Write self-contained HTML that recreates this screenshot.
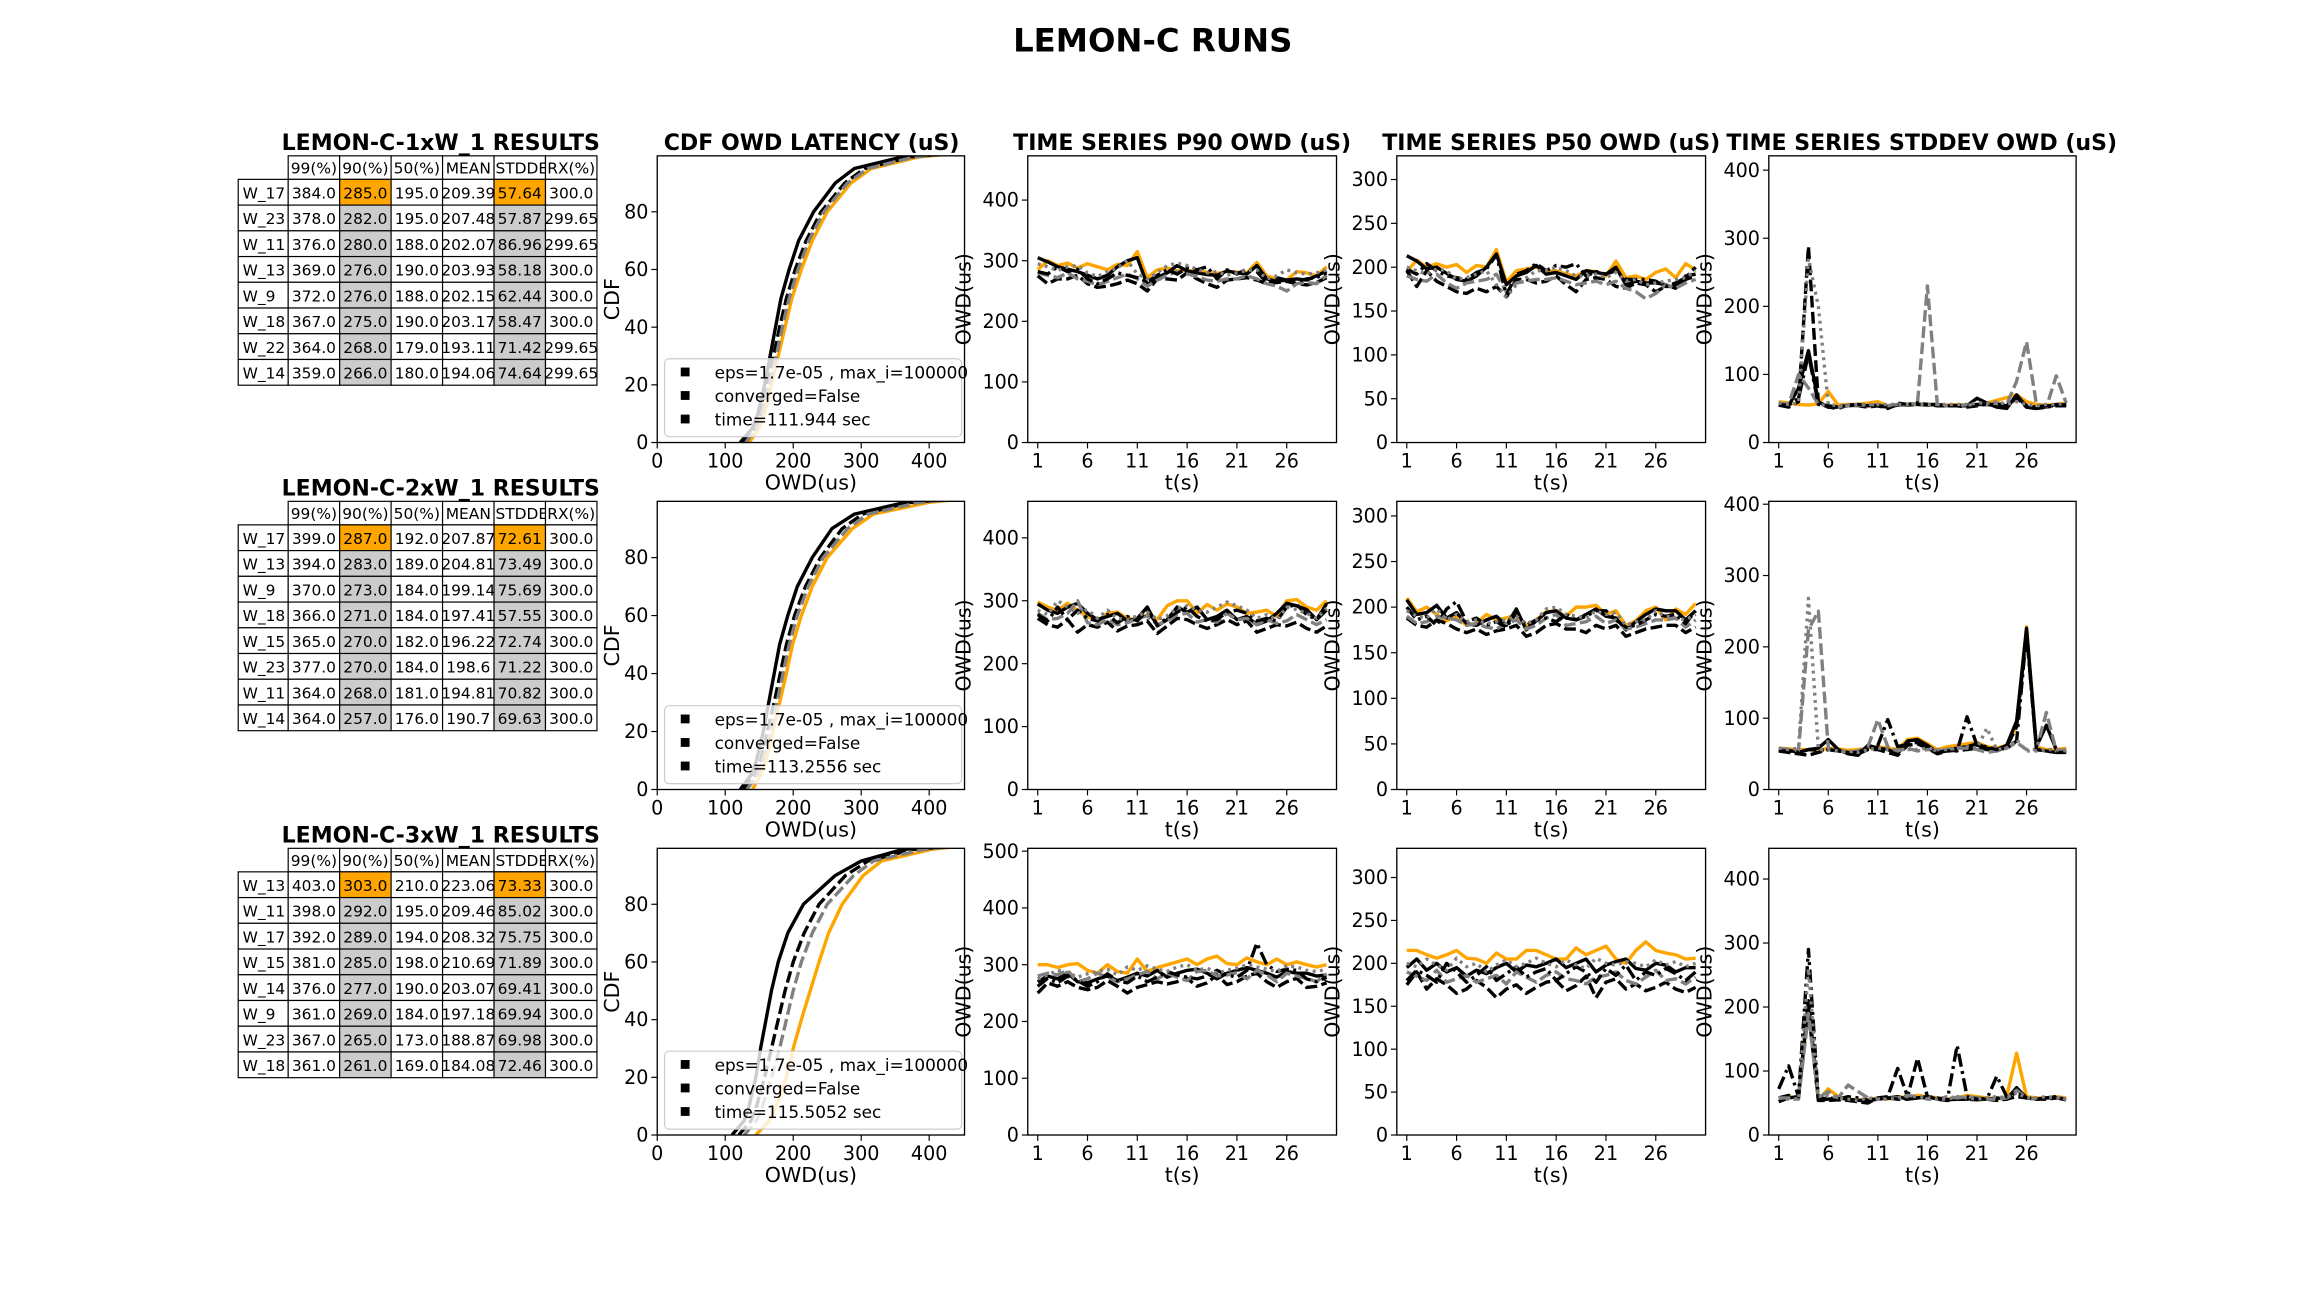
<!DOCTYPE html>
<html><head><meta charset="utf-8">
<style>
html,body{margin:0;padding:0;background:#fff;}
svg{display:block;font-family:"DejaVu Sans","Liberation Sans",sans-serif;}
</style></head>
<body>
<svg id="fig" width="2304" height="1296" viewBox="0 0 1567 881.5" preserveAspectRatio="none" xmlns="http://www.w3.org/2000/svg">
<text x="784" y="35" text-anchor="middle" font-size="22" font-weight="bold">LEMON-C RUNS</text>
</svg>
<script>
// ---------- DATA ----------
const tableCols = ["99(%)","90(%)","50(%)","MEAN","STDDEV","RX(%)"];
const tableTitles = ["LEMON-C-1xW_1 RESULTS","LEMON-C-2xW_1 RESULTS","LEMON-C-3xW_1 RESULTS"];
const tableRows1 = [["W_17","384.0","285.0","195.0","209.39","57.64","300.0"],["W_23","378.0","282.0","195.0","207.48","57.87","299.65"],["W_11","376.0","280.0","188.0","202.07","86.96","299.65"],["W_13","369.0","276.0","190.0","203.93","58.18","300.0"],["W_9","372.0","276.0","188.0","202.15","62.44","300.0"],["W_18","367.0","275.0","190.0","203.17","58.47","300.0"],["W_22","364.0","268.0","179.0","193.11","71.42","299.65"],["W_14","359.0","266.0","180.0","194.06","74.64","299.65"]];
const tableRows2 = [["W_17","399.0","287.0","192.0","207.87","72.61","300.0"],["W_13","394.0","283.0","189.0","204.81","73.49","300.0"],["W_9","370.0","273.0","184.0","199.14","75.69","300.0"],["W_18","366.0","271.0","184.0","197.41","57.55","300.0"],["W_15","365.0","270.0","182.0","196.22","72.74","300.0"],["W_23","377.0","270.0","184.0","198.6","71.22","300.0"],["W_11","364.0","268.0","181.0","194.81","70.82","300.0"],["W_14","364.0","257.0","176.0","190.7","69.63","300.0"]];
const tableRows3 = [["W_13","403.0","303.0","210.0","223.06","73.33","300.0"],["W_11","398.0","292.0","195.0","209.46","85.02","300.0"],["W_17","392.0","289.0","194.0","208.32","75.75","300.0"],["W_15","381.0","285.0","198.0","210.69","71.89","300.0"],["W_14","376.0","277.0","190.0","203.07","69.41","300.0"],["W_9","361.0","269.0","184.0","197.18","69.94","300.0"],["W_23","367.0","265.0","173.0","188.87","69.98","300.0"],["W_18","361.0","261.0","169.0","184.08","72.46","300.0"]];
const legendTimes = ["time=111.944 sec","time=113.2556 sec","time=115.5052 sec"];

const cdfLevels = [0,5,10,20,30,40,50,60,70,80,90,95,99,100];
const cdf1 = [[135,150,158,168,178,188,198,212,228,250,285,315,384,430],[122,140,148,158,166,174,182,194,208,230,262,290,360,410],[126,144,152,162,171,180,190,203,219,241,276,305,372,420],[130,146,154,165,175,184,194,207,223,245,280,310,378,425]];
const cdf2 = [[140,152,160,170,180,190,199,212,228,250,287,318,399,440],[122,138,146,156,164,172,180,192,206,228,257,290,364,415],[128,144,152,162,172,181,190,202,218,240,272,302,370,425],[132,147,155,166,176,185,194,206,222,244,280,310,385,432]];
const cdf3 = [[145,165,175,190,200,212,225,238,252,272,303,330,403,440],[110,128,135,145,152,160,168,178,192,215,262,300,361,420],[120,138,146,158,168,178,188,200,216,238,277,310,376,428],[128,146,155,168,180,190,200,212,228,250,289,318,392,435]];

const p90_1 = [[285,300,292,296,288,295,290,285,294,292,315,272,285,288,283,284,283,281,279,282,281,280,297,275,270,268,282,280,275,290],[305,298,290,286,282,276,270,276,290,300,305,260,272,280,292,283,280,277,276,283,280,278,292,270,266,268,270,268,275,283],[275,262,270,270,276,262,256,258,262,268,262,250,270,270,268,280,270,262,256,268,270,272,268,262,264,266,262,260,264,272],[280,276,272,280,270,266,260,266,272,278,270,258,268,276,282,278,274,268,266,270,270,275,270,262,258,250,262,264,262,276],[282,278,290,282,286,270,262,270,280,276,272,265,276,285,278,288,285,290,270,285,278,286,282,264,272,268,266,270,272,280],[295,290,284,290,292,280,274,282,288,300,278,270,280,292,296,292,286,280,282,276,280,284,285,270,275,285,280,278,280,285]];
const p50_1 = [[195,208,200,204,200,203,194,202,200,220,183,196,198,200,195,196,192,190,196,195,190,207,188,190,186,194,198,188,204,197],[213,207,198,200,193,186,184,190,200,215,180,190,194,202,192,194,190,186,196,194,192,200,180,184,182,182,180,176,190,192],[196,178,196,184,178,172,170,176,172,178,166,186,186,182,184,190,180,172,186,188,186,178,176,182,180,172,178,178,186,190],[190,186,184,192,182,176,182,184,186,192,172,182,184,186,186,188,184,180,182,184,180,184,176,172,164,170,180,176,182,186],[198,192,204,196,190,188,186,194,198,214,168,192,196,204,196,202,200,204,190,195,192,196,186,186,186,184,178,182,188,200],[200,196,192,198,196,186,188,192,196,180,166,180,188,196,196,200,196,190,190,192,188,194,184,186,180,182,184,186,188,196]];
const std_1 = [[60,58,56,55,57,75,55,56,56,58,60,54,56,56,57,56,55,55,56,55,56,58,62,66,70,60,56,55,56,58],[56,54,80,135,60,52,52,54,55,54,55,52,55,56,56,55,56,54,54,54,65,58,52,50,70,52,50,52,56,55],[55,52,60,288,58,52,50,55,54,52,54,50,56,55,56,56,54,54,54,52,54,56,54,52,66,52,50,52,54,54],[58,56,100,80,56,54,52,54,54,56,55,54,56,56,58,230,56,54,55,55,56,56,58,56,90,148,56,52,98,58],[55,55,65,130,56,54,52,55,56,54,54,52,58,56,58,56,56,54,54,54,56,56,56,54,68,54,52,54,54,56],[58,56,58,270,200,56,54,55,56,56,56,56,56,56,56,56,56,56,56,56,58,58,60,56,60,56,54,56,56,58]];
const p90_2 = [[298,290,285,296,285,275,268,280,282,272,270,278,270,292,300,300,280,294,285,295,290,280,282,285,275,300,302,290,285,300],[295,285,280,290,296,280,270,275,280,268,272,290,260,270,290,282,290,270,275,285,270,275,262,268,280,296,292,286,270,295],[272,262,258,270,250,262,258,266,252,260,262,268,248,260,272,270,262,256,262,270,262,268,250,256,262,260,266,256,250,260],[280,270,272,280,300,265,262,270,262,265,272,276,262,268,278,280,266,270,266,280,270,272,262,270,264,268,278,270,262,270],[278,268,290,270,285,272,268,278,265,275,268,285,262,272,282,290,275,268,270,282,285,280,268,272,268,290,294,278,270,285],[285,278,300,290,280,286,272,285,272,270,276,282,270,276,288,292,285,282,290,298,292,285,272,278,270,290,286,280,272,288]];
const p50_2 = [[210,195,200,192,185,190,180,182,192,186,188,192,180,186,195,196,190,200,200,202,192,196,180,185,196,200,186,198,192,204],[208,192,194,202,188,194,182,180,186,190,180,198,175,185,194,196,188,186,192,198,190,188,175,184,192,198,196,196,186,196],[188,180,178,186,182,176,172,176,170,174,176,180,168,172,180,182,176,176,172,180,176,180,168,172,176,178,180,180,172,178],[190,182,184,190,188,186,180,182,178,176,182,186,176,180,188,192,180,182,184,190,182,186,176,178,182,186,186,188,178,186],[200,186,190,180,198,206,184,188,180,184,178,194,180,186,188,184,192,186,190,196,196,186,178,180,186,192,190,192,182,196],[196,190,188,198,186,192,184,186,182,184,186,190,182,186,198,200,192,190,188,196,192,194,180,184,186,196,190,188,186,192]];
const std_2 = [[58,57,56,56,55,58,57,55,56,58,60,58,56,70,72,64,56,60,62,64,66,60,58,62,90,228,60,56,56,58],[56,55,52,56,58,70,56,50,48,62,58,56,50,68,70,62,52,56,58,60,64,58,56,62,96,226,60,90,56,52],[54,52,50,48,52,56,54,52,50,56,56,52,48,62,64,58,50,54,55,56,58,56,54,60,88,222,56,54,52,54],[58,56,55,224,250,58,54,52,54,60,98,60,54,58,54,56,55,56,58,58,56,52,54,58,66,56,56,108,54,56],[54,54,52,56,55,56,54,52,52,58,62,98,60,64,66,58,52,54,54,102,62,60,56,58,68,220,56,54,52,52],[58,56,58,268,56,56,54,54,52,56,58,56,56,56,56,58,56,56,58,60,58,86,56,58,70,54,54,56,56,54]];
const p90_3 = [[300,300,295,300,302,290,285,300,288,285,310,288,295,300,305,310,300,310,315,302,300,312,305,300,310,300,305,300,296,300],[270,280,275,285,270,268,275,280,272,278,285,280,290,278,285,290,292,285,275,285,290,295,290,285,278,288,285,285,280,282],[250,268,262,270,260,256,260,272,262,250,260,265,270,266,270,276,262,268,282,265,270,280,285,270,260,270,276,260,262,268],[280,285,282,290,270,275,285,278,270,275,282,288,275,285,278,272,288,290,280,282,286,275,290,282,270,285,280,276,270,284],[262,276,268,280,272,262,270,284,272,268,280,270,278,288,282,278,275,280,290,282,278,290,338,300,288,292,290,275,270,278],[275,282,290,286,278,284,288,292,282,296,290,298,292,288,296,300,290,294,285,290,294,300,296,292,288,298,296,290,288,292]];
const p50_3 = [[215,215,210,206,210,215,206,205,200,212,205,205,215,215,210,205,205,218,210,215,220,205,200,215,225,215,212,210,205,206],[195,205,192,200,190,195,185,192,188,195,200,190,198,196,200,205,195,200,205,190,198,202,205,194,192,200,198,190,195,195],[175,190,170,182,175,165,170,180,172,160,170,175,165,172,178,180,168,174,185,160,178,182,170,176,168,172,178,170,166,172],[190,185,180,192,178,182,186,178,182,186,176,190,184,178,186,190,182,180,176,184,186,190,180,176,184,192,180,182,176,184],[180,192,186,178,200,190,178,186,196,180,188,196,184,190,194,180,188,196,190,178,194,186,198,180,190,186,194,188,180,190],[200,196,205,198,192,206,196,200,190,198,204,196,200,206,200,196,204,198,194,206,200,198,202,200,196,204,198,202,196,200]];
const std_3 = [[56,60,58,200,55,72,60,56,55,55,58,56,60,58,62,60,58,56,58,62,60,58,56,60,128,60,58,58,60,58],[52,58,60,210,55,56,58,56,54,54,56,58,60,56,58,60,56,55,56,56,58,56,58,56,74,58,56,58,58,55],[58,62,58,195,54,54,55,54,52,50,58,60,104,60,120,60,56,54,56,56,55,56,54,56,60,58,56,56,58,56],[58,58,56,190,58,68,58,78,68,58,56,58,58,62,60,56,56,60,58,60,58,56,56,58,70,58,56,58,60,56],[72,108,60,290,56,58,56,60,58,54,56,58,56,56,58,60,58,54,140,60,56,56,92,60,66,58,56,58,60,54],[58,56,56,260,60,62,58,56,54,58,56,56,58,60,60,58,56,56,60,58,56,58,60,58,66,58,58,60,58,56]];
const tTicks = [1,6,11,16,21,26];
const cdfXTicks = [0,100,200,300,400];
const cdfYTicks = [0,20,40,60,80];

// ---------- DRAW ----------
const NS = "http://www.w3.org/2000/svg";
const svg = document.getElementById("fig");
function mk(tag, attrs, parent){const e=document.createElementNS(NS,tag);for(const k in attrs)e.setAttribute(k,attrs[k]);(parent||svg).appendChild(e);return e;}
function txt(s, attrs, parent){const e=mk("text",attrs,parent);e.textContent=s;return e;}

const styles = [
  {c:"#ffa500",d:""},{c:"#000",d:""},{c:"#000",d:"8,3"},{c:"#808080",d:"8,3"},{c:"#000",d:"9,3,2,3"},{c:"#808080",d:"2,3"}
];
const rowsY = [[106,301],[341,537],[577,772]];
const colsX = {cdf:[447,656],p90:[699,909],p50:[950,1160],std:[1203,1412]};
const tXlim = [0,31];

function axes(name, x0,x1,y0,y1, xlim, ylim, xticks, yticks, xlabel, ylabel, series, xs){
  const g = mk("g",{});
  
  
  const sx = v => x0 + (v-xlim[0])/(xlim[1]-xlim[0])*(x1-x0);
  const sy = v => y1 - (v-ylim[0])/(ylim[1]-ylim[0])*(y1-y0);
  const cid = "clip-"+name;
  const cp = mk("clipPath",{id:cid},g); mk("rect",{x:x0,y:y0,width:x1-x0,height:y1-y0},cp);
  const lg = mk("g",{"clip-path":"url(#"+cid+")"},g);
  series.forEach((s,i)=>{
    const st = styles[i%styles.length];
    const pts = s.map((v,j)=> xs==="cdf" ? sx(v)+","+sy(cdfLevels[j]) : sx(j+1)+","+sy(v)).join(" ");
    const pl = mk("polyline",{points:pts,fill:"none",stroke:st.c,"stroke-width":2.3,"stroke-dasharray":st.d,"stroke-linejoin":"round"},lg);
    
    
  });
  mk("rect",{x:x0,y:y0,width:x1-x0,height:y1-y0,fill:"none",stroke:"#000","stroke-width":0.9},g);
  xticks.forEach(t=>{const X=sx(t);mk("line",{x1:X,x2:X,y1:y1,y2:y1+4,stroke:"#000","stroke-width":0.8},g);
    const l=txt(String(t),{x:X,y:y1+17,"text-anchor":"middle","font-size":13},g);
    
    });
  yticks.forEach(t=>{const Y=sy(t);mk("line",{x1:x0-4,x2:x0,y1:Y,y2:Y,stroke:"#000","stroke-width":0.8},g);
    const l=txt(String(t),{x:x0-6,y:Y+4.5,"text-anchor":"end","font-size":13},g);
    
    });
  const xl=txt(xlabel,{x:(x0+x1)/2,y:y1+32,"text-anchor":"middle","font-size":14},g);
  
  
  const ylx = x0-(ylabel==="CDF"?26:39);
  const yl=txt(ylabel,{x:ylx,y:(y0+y1)/2,"text-anchor":"middle","font-size":14,transform:"rotate(-90 "+ylx+" "+((y0+y1)/2)+")"},g);
  
  
  return g;
}

[["CDF OWD LATENCY (uS)",552],["TIME SERIES P90 OWD (uS)",804],["TIME SERIES P50 OWD (uS)",1055],["TIME SERIES STDDEV OWD (uS)",1307]].forEach(a=>{
  const t=txt(a[0],{x:a[1],y:102,"text-anchor":"middle","font-size":15,"font-weight":"bold"});
  
  
});

const allTables=[tableRows1,tableRows2,tableRows3];
const allCdf=[cdf1,cdf2,cdf3];
const allP90=[p90_1,p90_2,p90_3];
const allP50=[p50_1,p50_2,p50_3];
const allStd=[std_1,std_2,std_3];
const p90Lim=[[0,473],[0,458],[0,505]];
const p90Ticks=[[0,100,200,300,400],[0,100,200,300,400],[0,100,200,300,400,500]];
const p50Lim=[[0,327],[0,316],[0,334]];
const p50Ticks=[0,50,100,150,200,250,300];
const stdLim=[[0,421],[0,404],[0,448]];
const stdTicks=[0,100,200,300,400];

const colEdges=[162,196,231,266,301,336,371,406];
rowsY.forEach((ry,r)=>{
  const [y0,y1]=ry;
  const tg=mk("g",{});  
  const tt=txt(tableTitles[r],{x:408,y:y0-4,"text-anchor":"end","font-size":15,"font-weight":"bold"},tg);
   
  const hh=16, rh=17.5;
  const cid="tclip"+r;
  tableCols.forEach((c,i)=>{
    const x=colEdges[i+1], w=colEdges[i+2]-x;
    mk("rect",{x:x,y:y0,width:w,height:hh,fill:"#fff",stroke:"#000","stroke-width":0.8},tg);
    const cp=mk("clipPath",{id:cid+"h"+i},tg); mk("rect",{x:x,y:y0,width:w+ (i==5?6:0),height:hh},cp);
    const h=txt(c,{x:x+w/2+(c==="STDDEV"?5:0),y:y0+12,"text-anchor":"middle","font-size":10.5,"clip-path":"url(#"+cid+"h"+i+")"},tg);
     
  });
  allTables[r].forEach((row,k)=>{
    const yy=y0+hh+k*rh;
    row.forEach((v,i)=>{
      const x=colEdges[i], w=colEdges[i+1]-x;
      let fill="#fff";
      if(i===2||i===5) fill = k===0 ? "#ffa500" : "#cccccc";
      mk("rect",{x:x,y:yy,width:w,height:rh,fill:fill,stroke:"#000","stroke-width":0.8},tg);
      const cp=mk("clipPath",{id:cid+"c"+k+"_"+i},tg); mk("rect",{x:x,y:yy,width:w+(i==6?6:0),height:rh},cp);
      const tx = i===0 ? x+3 : x+w/2;
      const c=txt(v,{x:tx,y:yy+13,"text-anchor":i===0?"start":"middle","font-size":10.5,"clip-path":"url(#"+cid+"c"+k+"_"+i+")"},tg);
       
    });
  });
  const cg=axes("cdf-plot-"+(r+1),colsX.cdf[0],colsX.cdf[1],y0,y1,[0,452],[0,99.4],cdfXTicks,cdfYTicks,"OWD(us)","CDF",allCdf[r],"cdf");
  const lgG=mk("g",{},cg);  
  mk("rect",{x:452,y:y1-57,width:202,height:53,rx:3,fill:"#fff","fill-opacity":0.8,stroke:"#ccc","stroke-width":0.8},lgG);
  ["eps=1.7e-05 , max_i=100000","converged=False",legendTimes[r]].forEach((s,i)=>{
    const yy=y1-47+i*16;
    mk("rect",{x:463,y:yy-4,width:6,height:6,fill:"#000"},lgG);
    const le=txt(s,{x:486,y:yy+3.5,"font-size":11.5},lgG);
     
  });
  axes("p90-plot-"+(r+1),colsX.p90[0],colsX.p90[1],y0,y1,tXlim,p90Lim[r],tTicks,p90Ticks[r],"t(s)","OWD(us)",allP90[r],"ts");
  axes("p50-plot-"+(r+1),colsX.p50[0],colsX.p50[1],y0,y1,tXlim,p50Lim[r],tTicks,p50Ticks,"t(s)","OWD(us)",allP50[r],"ts");
  axes("stddev-plot-"+(r+1),colsX.std[0],colsX.std[1],y0,y1,tXlim,stdLim[r],tTicks,stdTicks,"t(s)","OWD(us)",allStd[r],"ts");
});
</script>
</body></html>
